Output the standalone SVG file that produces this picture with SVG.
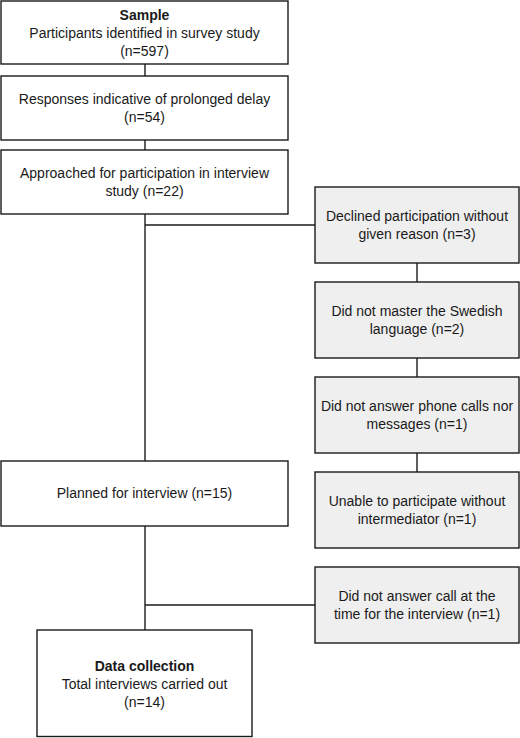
<svg xmlns="http://www.w3.org/2000/svg" width="520" height="738" viewBox="0 0 520 738">
<style>
  .box{fill:#ffffff;stroke:#1a1a1a;stroke-width:1.4}
  .gray{fill:#efefef;stroke:#1a1a1a;stroke-width:1.4}
  .t{font-family:"Liberation Sans",Arial,sans-serif;font-size:14px;fill:#1a1a1a;text-anchor:middle}
  .b{font-weight:bold}
  .c{fill:none;stroke:#1a1a1a;stroke-width:1.4}
</style>
<rect width="520" height="738" fill="#ffffff"/>
<g id="connectors">
  <line class="c" x1="145" y1="64" x2="145" y2="76"/>
  <line class="c" x1="145" y1="140" x2="145" y2="150"/>
  <line class="c" x1="145" y1="214" x2="145" y2="461"/>
  <line class="c" x1="145" y1="225" x2="315" y2="225"/>
  <line class="c" x1="417" y1="263" x2="417" y2="282"/>
  <line class="c" x1="417" y1="358" x2="417" y2="377"/>
  <line class="c" x1="417" y1="453" x2="417" y2="472"/>
  <line class="c" x1="145" y1="526" x2="145" y2="630"/>
  <line class="c" x1="145" y1="605" x2="315" y2="605"/>
</g>
<g id="sample">
  <rect class="box" x="1" y="1" width="287" height="63"/>
  <text class="t b" x="144.5" y="20">Sample</text>
  <text class="t" x="144.5" y="38">Participants identified in survey study</text>
  <text class="t" x="144.5" y="56">(n=597)</text>
</g>
<g id="responses">
  <rect class="box" x="1" y="76" width="287" height="64"/>
  <text class="t" x="144.5" y="104">Responses indicative of prolonged delay</text>
  <text class="t" x="144.5" y="122">(n=54)</text>
</g>
<g id="approached">
  <rect class="box" x="1" y="150" width="287" height="64"/>
  <text class="t" x="144.5" y="178">Approached for participation in interview</text>
  <text class="t" x="144.5" y="196">study (n=22)</text>
</g>
<g id="declined">
  <rect class="gray" x="315" y="187" width="204" height="76"/>
  <text class="t" x="417" y="221">Declined participation without</text>
  <text class="t" x="417" y="239">given reason (n=3)</text>
</g>
<g id="swedish">
  <rect class="gray" x="315" y="282" width="204" height="76"/>
  <text class="t" x="417" y="316">Did not master the Swedish</text>
  <text class="t" x="417" y="334">language (n=2)</text>
</g>
<g id="phone">
  <rect class="gray" x="315" y="377" width="204" height="76"/>
  <text class="t" x="417" y="411">Did not answer phone calls nor</text>
  <text class="t" x="417" y="429">messages (n=1)</text>
</g>
<g id="intermediator">
  <rect class="gray" x="315" y="472" width="204" height="76"/>
  <text class="t" x="417" y="506">Unable to participate without</text>
  <text class="t" x="417" y="524">intermediator (n=1)</text>
</g>
<g id="planned">
  <rect class="box" x="1" y="461" width="287" height="65"/>
  <text class="t" x="144.5" y="498">Planned for interview (n=15)</text>
</g>
<g id="nocall">
  <rect class="gray" x="315" y="567" width="204" height="76"/>
  <text class="t" x="417" y="601">Did not answer call at the</text>
  <text class="t" x="417" y="619">time for the interview (n=1)</text>
</g>
<g id="datacollection">
  <rect class="box" x="37" y="630" width="215" height="106.5"/>
  <text class="t b" x="144.5" y="670.5">Data collection</text>
  <text class="t" x="144.5" y="688.5">Total interviews carried out</text>
  <text class="t" x="144.5" y="706.5">(n=14)</text>
</g>
</svg>
